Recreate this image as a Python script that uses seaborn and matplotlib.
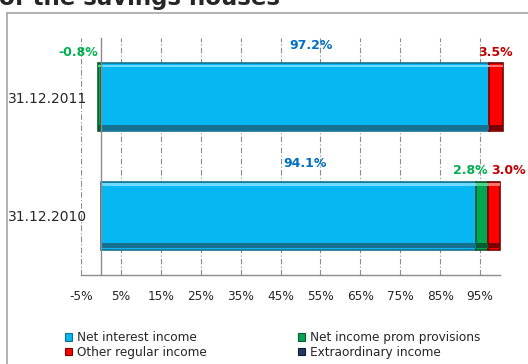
import matplotlib

matplotlib.use("Agg")

import matplotlib.pyplot as plt
import pandas as pd
import seaborn as sns
from matplotlib.lines import Line2D
from matplotlib.patches import Patch

# chart data (percent of operating income)
dates = ["31.12.2011", "31.12.2010"]
net_interest = [97.2, 94.1]
provisions = [-0.8, 2.8]
other_regular = [3.5, 3.0]
extraordinary = [0.0, 0.0]
x_ticks = list(range(-5, 100, 10))

series_names = ["Net interest income", "Net income prom provisions",
                "Other regular income", "Extraordinary income"]
face = {"Net interest income": "#07B7F2", "Net income prom provisions": "#00A651",
        "Other regular income": "#FF0000", "Extraordinary income": "#1F3A60"}
edge = {"Net interest income": "#16708F", "Net income prom provisions": "#0B5A30",
        "Other regular income": "#7A0000", "Extraordinary income": "#0E1D33"}
light = {"Net interest income": "#6FDCFF", "Net income prom provisions": "#4CD68A",
         "Other regular income": "#FF7070"}
label_color = {"Net interest income": "#0070C0", "Net income prom provisions": "#00B050",
               "Other regular income": "#C00000"}

sns.set_style("white")
plt.rcParams["font.family"] = ["DejaVu Sans"]

W, H = 528, 364
fig = plt.figure(figsize=(W / 100, H / 100), dpi=100)
ax = fig.add_axes([81 / W, 1 - 275 / H, (500 - 81) / W, (275 - 38) / H])

df = pd.DataFrame({"date": dates, "nii": net_interest})
bar_h = 0.57
sns.barplot(data=df, x="nii", y="date", orient="h", color=face[series_names[0]],
            saturation=1, width=bar_h, edgecolor=edge[series_names[0]], linewidth=1.2, ax=ax)

ypos = list(range(len(dates)))
prov_left = [n if p > 0 else 0 for n, p in zip(net_interest, provisions)]
ax.barh(ypos, provisions, left=prov_left, height=bar_h, color=face[series_names[1]],
        edgecolor=edge[series_names[1]], linewidth=1.2)
other_left = [n + max(p, 0) for n, p in zip(net_interest, provisions)]
ax.barh(ypos, other_regular, left=other_left, height=bar_h, color=face[series_names[2]],
        edgecolor=edge[series_names[2]], linewidth=1.2)

# bevel shading: light top strip, dark bottom strip
shade = 0.045
for vals, lefts, name in [(net_interest, [0, 0], series_names[0]),
                          (provisions, prov_left, series_names[1]),
                          (other_regular, other_left, series_names[2])]:
    tops = [y - bar_h / 2 + 0.02 for y in ypos]
    bottoms = [y + bar_h / 2 - shade / 2 - 0.01 for y in ypos]
    ax.barh(tops, vals, left=lefts, height=0.02, color=light[name], linewidth=0)
    ax.barh(bottoms, vals, left=lefts, height=shade, color=edge[name], linewidth=0)

for p in ax.patches:
    p.set_clip_on(False)

# data labels
for i in ypos:
    top = i - bar_h / 2
    ax.annotate(f"{net_interest[i]:.1f}%", (net_interest[i] / 2 + 4, top), xytext=(0, 13),
                textcoords="offset points", ha="center", va="center", fontsize=9,
                fontweight="bold", color=label_color[series_names[0]])
    p = provisions[i]
    px = p if p < 0 else prov_left[i] + p
    ax.annotate(f"{p:.1f}%", (px, top), xytext=(0, 8), textcoords="offset points",
                ha="right", va="center", fontsize=9, fontweight="bold",
                color=label_color[series_names[1]])
    if p > 0:
        ox, ha = other_left[i] + 0.8, "left"
    else:
        ox, ha = other_left[i] + other_regular[i] / 2, "center"
    ax.annotate(f"{other_regular[i]:.1f}%", (ox, top), xytext=(0, 8), textcoords="offset points",
                ha=ha, va="center", fontsize=9, fontweight="bold",
                color=label_color[series_names[2]])

ax.set_xlim(-5, 100)
ax.set_ylim(1.5, -0.5)
ax.set_xticks(x_ticks)
ax.set_xticklabels([f"{t}%" for t in x_ticks], fontsize=8.7)
ax.set_yticks(ypos)
ax.set_yticklabels(dates, fontsize=8.7)
ax.set_yticks([-0.5, 0.5, 1.5], minor=True)
ax.set_xlabel("")
ax.set_ylabel("")

ax.spines["top"].set_visible(False)
ax.spines["right"].set_visible(False)
ax.spines["left"].set_position(("data", 0))
for s in ("left", "bottom"):
    ax.spines[s].set_color("#8C8C8C")
    ax.spines[s].set_linewidth(1.0)

ax.tick_params(axis="y", which="major", length=0, pad=10)
ax.tick_params(axis="y", which="minor", length=3, color="#8C8C8C", direction="out")
ax.tick_params(axis="x", which="major", length=4, color="#8C8C8C", direction="out", pad=7)
ax.xaxis.grid(True, linestyle=(0, (5, 2, 1, 2)), color="#8C8C8C", linewidth=0.8)
ax.set_axisbelow(True)

# legend
handles = [Patch(facecolor=face[n], edgecolor=edge[n], linewidth=0.8) for n in series_names]
order = [0, 2, 1, 3]
fig.legend([handles[k] for k in order], [series_names[k] for k in order], ncol=2,
           loc="upper left", bbox_to_anchor=(65 / W, 1 - 331 / H), frameon=False,
           fontsize=8.7, handlelength=0.6, handleheight=0.6, handletextpad=0.4,
           labelspacing=0.15, columnspacing=7.55, borderpad=0, borderaxespad=0)

# chart frame and clipped title
fig.add_artist(Line2D([7 / W, 1], [1 - 13 / H] * 2, transform=fig.transFigure,
                      color="#A6A6A6", linewidth=1.2))
fig.add_artist(Line2D([7 / W, 7 / W], [0, 1 - 13 / H], transform=fig.transFigure,
                      color="#A6A6A6", linewidth=1.2))
fig.text(-1 / W, 1 - 5 / H, "of the savings houses", fontsize=16.5, fontweight="bold",
         ha="left", va="baseline")

fig.savefig("out.png", dpi=100)
plt.close(fig)
